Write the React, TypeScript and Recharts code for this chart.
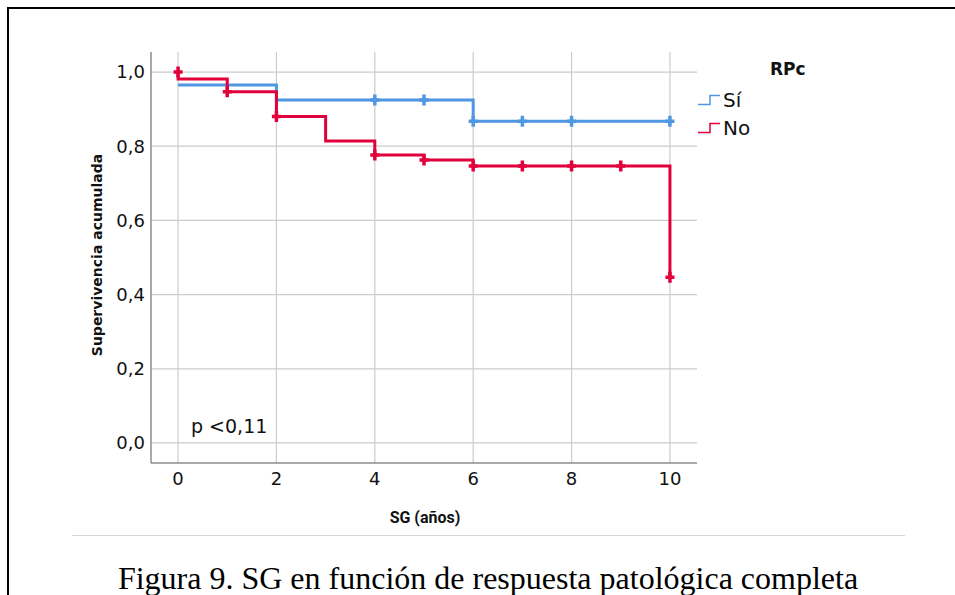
import React from "react";
import {
  ComposedChart,
  Line,
  Scatter,
  XAxis,
  YAxis,
  CartesianGrid,
} from "recharts";

// Kaplan-Meier step points
const siTimes = [0, 2, 6, 10];
const siSurv = [0.965, 0.9245, 0.867, 0.867];
const noTimes = [0, 0, 1, 2, 3, 4, 5, 6, 10, 10];
const noSurv = [1.0, 0.981, 0.947, 0.88, 0.814, 0.776, 0.763, 0.747, 0.747, 0.447];

// Censored observations
const siCensTimes = [4, 5, 6, 7, 8, 10];
const siCensSurv = [0.9245, 0.9245, 0.867, 0.867, 0.867, 0.867];
const noCensTimes = [0, 1, 2, 4, 5, 6, 7, 8, 9, 10];
const noCensSurv = [1.0, 0.947, 0.88, 0.776, 0.763, 0.747, 0.747, 0.747, 0.747, 0.447];

const xTicks = [0, 2, 4, 6, 8, 10];
const yTicks = [0, 0.2, 0.4, 0.6, 0.8, 1.0];

const seriesNames = ["Sí", "No"];
const legendTitle = "RPc";
const xLabel = "SG (años)";
const yLabel = "Supervivencia acumulada";
const pText = "p <0,11";
const caption = "Figura 9. SG en función de respuesta patológica completa";

const BLUE = "#4f97e3";
const RED = "#e1003b";

const zip = (xs: number[], ys: number[]) => xs.map((x, i) => ({ x, y: ys[i] }));

const siLine = zip(siTimes, siSurv);
const noLine = zip(noTimes, noSurv);
const siCens = zip(siCensTimes, siCensSurv);
const noCens = zip(noCensTimes, noCensSurv);

const makePlus = (color: string) => (props: any) => {
  const { cx, cy } = props;
  if (cx == null || cy == null) return <g />;
  return (
    <path
      d={`M${cx},${cy - 5.5}L${cx},${cy + 5.5}M${cx - 4.5},${cy}L${cx + 4.5},${cy}`}
      stroke={color}
      strokeWidth={3.5}
      fill="none"
    />
  );
};

const StepIcon = ({ color }: { color: string }) => (
  <svg width={24} height={12} style={{ display: "block" }}>
    <path d="M1,10.5L13,10.5L13,1.5L23,1.5" stroke={color} strokeWidth={1.5} fill="none" />
  </svg>
);

const fmt = (v: number) => v.toFixed(1).replace(".", ",");

const tickStyle = { fill: "#111", fontSize: 18, fontFamily: "DejaVu Sans" };

export default function App() {
  return (
    <div style={{ position: "absolute", left: 0, top: 0, width: 955, height: 595, background: "#fff" }}>
      <div
        style={{
          position: "absolute",
          left: 7,
          top: 7,
          width: 948,
          height: 588,
          borderLeft: "2px solid #000",
          borderTop: "2px solid #000",
        }}
      />
      <div style={{ position: "absolute", left: 0, top: 0 }}>
        <ComposedChart
          width={955}
          height={595}
          margin={{ top: 52, right: 258, bottom: 102, left: 91 }}
        >
          <CartesianGrid stroke="#cccccc" strokeWidth={1.2} verticalValues={xTicks} horizontalValues={yTicks} />
          <XAxis
            dataKey="x"
            type="number"
            domain={[-0.55, 10.55]}
            ticks={xTicks}
            allowDataOverflow
            height={30}
            tickSize={0}
            tickMargin={9}
            axisLine={{ stroke: "#8c8c8c", strokeWidth: 1.5 }}
            tickLine={false}
            tick={tickStyle}
          />
          <YAxis
            dataKey="y"
            type="number"
            domain={[-0.054, 1.054]}
            ticks={yTicks}
            allowDataOverflow
            width={60}
            tickSize={0}
            tickMargin={6}
            tickFormatter={fmt}
            axisLine={{ stroke: "#8c8c8c", strokeWidth: 1.5 }}
            tickLine={false}
            tick={tickStyle}
          />
          <Line
            data={siLine}
            dataKey="y"
            name={seriesNames[0]}
            type="stepAfter"
            stroke={BLUE}
            strokeWidth={3}
            dot={false}
            activeDot={false}
            isAnimationActive={false}
          />
          <Line
            data={noLine}
            dataKey="y"
            name={seriesNames[1]}
            type="stepAfter"
            stroke={RED}
            strokeWidth={3}
            dot={false}
            activeDot={false}
            isAnimationActive={false}
          />
          <Scatter data={siCens} dataKey="y" shape={makePlus(BLUE)} isAnimationActive={false} legendType="none" />
          <Scatter data={noCens} dataKey="y" shape={makePlus(RED)} isAnimationActive={false} legendType="none" />
        </ComposedChart>
      </div>
      <div style={{ position: "absolute", left: 695, top: 55, fontFamily: "DejaVu Sans", color: "#111" }}>
        <div style={{ position: "absolute", left: 75, top: 4, fontWeight: "bold", fontSize: 17, whiteSpace: "nowrap" }}>
          {legendTitle}
        </div>
        {[BLUE, RED].map((c, i) => (
          <div
            key={i}
            style={{ position: "absolute", left: 2, top: 34 + i * 28, display: "flex", alignItems: "center", whiteSpace: "nowrap" }}
          >
            <StepIcon color={c} />
            <span style={{ fontSize: 20, marginLeft: 2, lineHeight: "22px" }}>{seriesNames[i]}</span>
          </div>
        ))}
      </div>
      <div
        style={{
          position: "absolute",
          left: 97,
          top: 255,
          transform: "translate(-50%, -50%) rotate(-90deg)",
          whiteSpace: "nowrap",
          fontFamily: "DejaVu Sans",
          fontWeight: "bold",
          fontSize: 14,
          color: "#111",
        }}
      >
        {yLabel}
      </div>
      <div
        style={{
          position: "absolute",
          left: 425,
          top: 517,
          transform: "translate(-50%, -50%)",
          whiteSpace: "nowrap",
          fontFamily: "Roboto",
          fontWeight: "bold",
          fontSize: 16,
          color: "#111",
        }}
      >
        {xLabel}
      </div>
      <div
        style={{
          position: "absolute",
          left: 191,
          top: 415,
          whiteSpace: "nowrap",
          fontFamily: "DejaVu Sans",
          fontSize: 19,
          color: "#111",
        }}
      >
        {pText}
      </div>
      <div style={{ position: "absolute", left: 72, top: 535, width: 833, height: 1, background: "#d9d9d9" }} />
      <div
        style={{
          position: "absolute",
          left: 488,
          top: 578,
          transform: "translate(-50%, -50%)",
          whiteSpace: "nowrap",
          fontFamily: "Liberation Serif",
          fontSize: 32,
          color: "#000",
        }}
      >
        {caption}
      </div>
    </div>
  );
}
